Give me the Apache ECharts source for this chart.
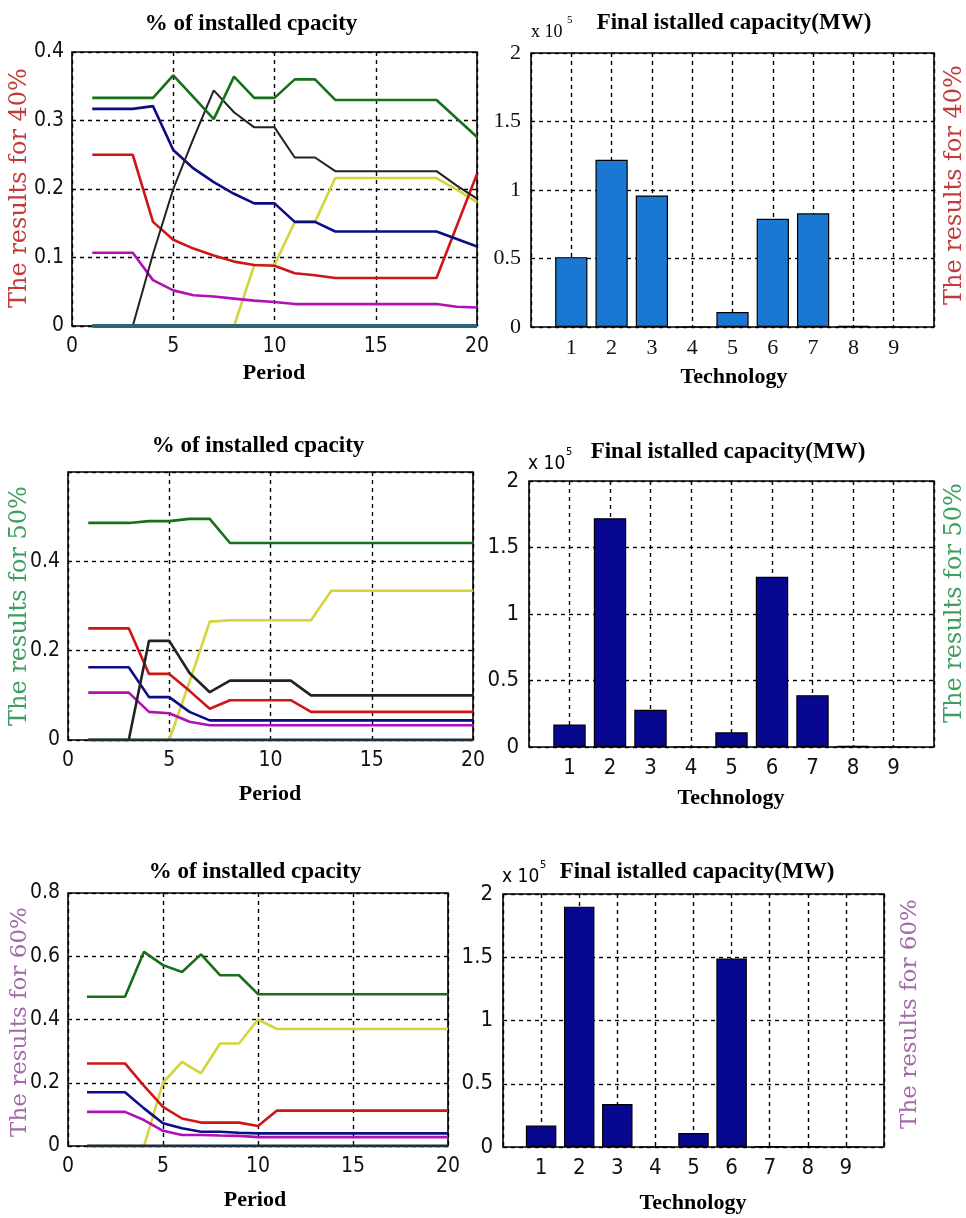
<!DOCTYPE html>
<html>
<head>
<meta charset="utf-8">
<script src="https://cdn.jsdelivr.net/npm/echarts@6/dist/echarts.min.js"></script>
<style>
html,body{margin:0;padding:0;background:#fff;}
#chart{width:966px;height:1218px;}
</style>
</head>
<body>
<div id="chart"></div>
<script>
// ---------- DATA ----------
const periods = [1,2,3,4,5,6,7,8,9,10,11,12,13,14,15,16,17,18,19,20];
const technologies = [1,2,3,4,5,6,7,8,9];

// 40% scenario - share of installed capacity
const green40   = [0.333,0.333,0.333,0.333,0.366,0.334,0.302,0.364,0.333,0.333,0.36,0.36,0.33,0.33,0.33,0.33,0.33,0.33,0.303,0.276];
const black40   = [0,0,0,0.105,0.2,0.274,0.344,0.312,0.29,0.29,0.246,0.246,0.226,0.226,0.226,0.226,0.226,0.226,0.205,0.186];
const blue40    = [0.317,0.317,0.317,0.321,0.257,0.23,0.21,0.193,0.179,0.179,0.152,0.152,0.138,0.138,0.138,0.138,0.138,0.138,0.127,0.116];
const red40     = [0.25,0.25,0.25,0.152,0.126,0.113,0.103,0.094,0.089,0.088,0.077,0.074,0.07,0.07,0.07,0.07,0.07,0.07,0.146,0.222];
const yellow40  = [0,0,0,0,0,0,0,0,0.089,0.089,0.152,0.152,0.216,0.216,0.216,0.216,0.216,0.216,0.199,0.181];
const magenta40 = [0.107,0.107,0.107,0.067,0.052,0.045,0.043,0.04,0.037,0.035,0.032,0.032,0.032,0.032,0.032,0.032,0.032,0.032,0.028,0.027];
const zero40    = [0,0,0,0,0,0,0,0,0,0,0,0,0,0,0,0,0,0,0,0];

// 50% scenario
const green50   = [0.486,0.486,0.486,0.49,0.49,0.495,0.495,0.441,0.441,0.441,0.441,0.441,0.441,0.441,0.441,0.441,0.441,0.441,0.441,0.441];
const black50   = [0,0,0,0.222,0.222,0.15,0.107,0.133,0.133,0.133,0.133,0.1,0.1,0.1,0.1,0.1,0.1,0.1,0.1,0.1];
const blue50    = [0.163,0.163,0.163,0.096,0.096,0.063,0.044,0.044,0.044,0.044,0.044,0.044,0.044,0.044,0.044,0.044,0.044,0.044,0.044,0.044];
const red50     = [0.25,0.25,0.25,0.148,0.148,0.11,0.07,0.089,0.089,0.089,0.089,0.063,0.063,0.063,0.063,0.063,0.063,0.063,0.063,0.063];
const yellow50  = [0,0,0,0,0,0.13,0.265,0.268,0.268,0.268,0.268,0.268,0.334,0.334,0.334,0.334,0.334,0.334,0.334,0.334];
const magenta50 = [0.106,0.106,0.106,0.063,0.06,0.041,0.033,0.033,0.033,0.033,0.033,0.033,0.033,0.033,0.033,0.033,0.033,0.033,0.033,0.033];
const zero50    = [0,0,0,0,0,0,0,0,0,0,0,0,0,0,0,0,0,0,0,0];

// 60% scenario
const green60   = [0.472,0.472,0.472,0.614,0.572,0.55,0.606,0.54,0.54,0.48,0.48,0.48,0.48,0.48,0.48,0.48,0.48,0.48,0.48,0.48];
const black60   = [0,0,0,0,0,0,0,0,0,0,0,0,0,0,0,0,0,0,0,0];
const blue60    = [0.17,0.17,0.17,0.119,0.072,0.056,0.045,0.045,0.042,0.04,0.04,0.04,0.04,0.04,0.04,0.04,0.04,0.04,0.04,0.04];
const red60     = [0.261,0.261,0.261,0.19,0.124,0.087,0.074,0.074,0.074,0.063,0.112,0.112,0.112,0.112,0.112,0.112,0.112,0.112,0.112,0.112];
const yellow60  = [0,0,0,0,0.2,0.266,0.23,0.324,0.324,0.40,0.37,0.37,0.37,0.37,0.37,0.37,0.37,0.37,0.37,0.37];
const magenta60 = [0.108,0.108,0.108,0.082,0.048,0.035,0.035,0.033,0.032,0.028,0.028,0.028,0.028,0.028,0.028,0.028,0.028,0.028,0.028,0.028];

// Final installed capacity (MW) per technology
const cap40 = [51000,122000,96000,0,11000,79000,83000,800,0];
const cap50 = [17000,172000,28000,0,11000,128000,39000,800,0];
const cap60 = [17000,190000,34000,0,11000,149000,600,600,0];

// tick values
const periodTicks = {min:0, max:20, interval:5};
const capTicks = {min:0, max:200000, interval:50000};

// ---------- STYLE ----------
const SERIF = '"Liberation Serif","Times New Roman",serif';
const NARROW = '"Liberation Sans Narrow","Arial Narrow","DejaVu Sans Condensed","Liberation Sans",sans-serif';
const C = {
  green:'#16701a', black:'#222222', blue:'#0c0c86', red:'#d01515',
  yellow:'#d4d43c', magenta:'#b010b4', teal:'#2a6675', dark:'#1d2f3a'
};

const grids = [
  {left:72,  top:52,  width:405, height:274},
  {left:531, top:53,  width:403, height:274},
  {left:68,  top:472, width:405, height:268},
  {left:529, top:481, width:405, height:266},
  {left:68,  top:893, width:380, height:253},
  {left:503, top:894, width:381, height:253}
].map(g => Object.assign({show:true, borderColor:'#000', borderWidth:1.6, backgroundColor:'#fff', containLabel:false}, g));

const dash = {show:true, lineStyle:{color:'#000', type:[4,4], width:1.4}};

function lineX(gi, font){
  return {type:'value', gridIndex:gi, min:periodTicks.min, max:periodTicks.max, interval:periodTicks.interval,
    axisLine:{show:false}, axisTick:{show:false}, splitLine:dash,
    axisLabel:{fontFamily:font, fontSize:21, color:'#111', margin:10}};
}
function lineY(gi, max, interval, hideTop){
  return {type:'value', gridIndex:gi, min:0, max:max, interval:interval,
    axisLine:{show:false}, axisTick:{show:false}, splitLine:dash,
    axisLabel:{fontFamily:NARROW, fontSize:21, color:'#111', margin:8,
      formatter: v => (hideTop && v >= max - 1e-9) ? '' : String(+v.toFixed(2))}};
}
function barX(gi, font){
  return {type:'value', gridIndex:gi, min:0, max:10, interval:1,
    axisLine:{show:false}, axisTick:{show:false}, splitLine:dash,
    axisLabel:{fontFamily:font, fontSize:22, color:'#111', margin:10,
      formatter: v => (v >= 1 && v <= 9) ? String(v) : ''}};
}
function barY(gi, font){
  return {type:'value', gridIndex:gi, min:capTicks.min, max:capTicks.max, interval:capTicks.interval,
    axisLine:{show:false}, axisTick:{show:false}, splitLine:dash,
    axisLabel:{fontFamily:font, fontSize:22, color:'#111', margin:10,
      formatter: v => String(v/100000)}};
}

function lineSeries(gi, arr, color, width, z){
  return {type:'line', xAxisIndex:gi, yAxisIndex:gi, data: periods.map((p,i)=>[p, arr[i]]),
    symbol:'none', lineStyle:{color:color, width:width||2.6}, itemStyle:{color:color}, z:z||2, animation:false};
}
function barSeries(gi, arr, color){
  return {type:'bar', xAxisIndex:gi, yAxisIndex:gi, data: technologies.map((t,i)=>[t, arr[i]]),
    barWidth: grids[gi].width/10*0.8,
    itemStyle:{color:color, borderColor:'#000', borderWidth:1.2}, animation:false};
}

function txt(x, y, text, o){
  o = o || {};
  return {type:'text', x:x, y:y, rotation:o.rot||0, z:100,
    style:{text:text, fill:o.color||'#000', fontFamily:o.font||SERIF, fontSize:o.size||20,
      fontWeight:o.weight||'normal', textAlign:o.align||'center', textVerticalAlign:'middle',
      align:o.align||'center', verticalAlign:'middle'}};
}

const RED_LBL = '#c23b3b', GREEN_LBL = '#3f9f60', PURPLE_LBL = '#a26aa8';
const rotFont = '"DejaVu Serif",serif';

const graphics = [
  // panel titles
  txt(251, 24, '% of installed cpacity', {weight:'bold', size:23}),
  txt(734, 23, 'Final istalled capacity(MW)', {weight:'bold', size:23}),
  txt(258, 446, '% of installed cpacity', {weight:'bold', size:23}),
  txt(728, 452, 'Final istalled capacity(MW)', {weight:'bold', size:23}),
  txt(255, 872, '% of installed cpacity', {weight:'bold', size:23}),
  txt(697, 872, 'Final istalled capacity(MW)', {weight:'bold', size:23}),
  // x axis names
  txt(274, 373, 'Period', {weight:'bold', size:22}),
  txt(734, 377, 'Technology', {weight:'bold', size:22}),
  txt(270, 794, 'Period', {weight:'bold', size:22}),
  txt(731, 798, 'Technology', {weight:'bold', size:22}),
  txt(255, 1200, 'Period', {weight:'bold', size:22}),
  txt(693, 1203, 'Technology', {weight:'bold', size:22}),
  // scale multipliers
  txt(531, 32, 'x 10', {align:'left', size:18}),
  txt(567, 20, '5', {align:'left', size:11}),
  txt(528, 464, 'x 10', {align:'left', size:19, font:NARROW}),
  txt(566, 452, '5', {align:'left', size:11, font:NARROW}),
  txt(502, 877, 'x 10', {align:'left', size:19, font:NARROW}),
  txt(540, 865, '5', {align:'left', size:11, font:NARROW}),
  // rotated scenario labels
  txt(20, 188, 'The results for 40%', {rot:Math.PI/2, color:RED_LBL, font:rotFont, size:24}),
  txt(955, 185, 'The results for 40%', {rot:Math.PI/2, color:RED_LBL, font:rotFont, size:24}),
  txt(20, 606, 'The results for 50%', {rot:Math.PI/2, color:GREEN_LBL, font:rotFont, size:24}),
  txt(955, 603, 'The results for 50%', {rot:Math.PI/2, color:GREEN_LBL, font:rotFont, size:24}),
  txt(20, 1022, 'The results for 60%', {rot:Math.PI/2, color:PURPLE_LBL, font:rotFont, size:23}),
  txt(910, 1014, 'The results for 60%', {rot:Math.PI/2, color:PURPLE_LBL, font:rotFont, size:23})
];

const option = {
  backgroundColor:'#fff',
  animation:false,
  grid: grids,
  xAxis: [lineX(0, NARROW), barX(1, SERIF), lineX(2, NARROW), barX(3, NARROW), lineX(4, NARROW), barX(5, NARROW)],
  yAxis: [lineY(0, 0.4, 0.1, false), barY(1, SERIF), lineY(2, 0.6, 0.2, true), barY(3, NARROW), lineY(4, 0.8, 0.2, false), barY(5, NARROW)],
  series: [
    lineSeries(0, yellow40, C.yellow), lineSeries(0, magenta40, C.magenta), lineSeries(0, red40, C.red),
    lineSeries(0, blue40, C.blue), lineSeries(0, black40, C.black, 2), lineSeries(0, green40, C.green),
    lineSeries(0, zero40, C.teal, 4, 3),
    barSeries(1, cap40, '#1b78d2'),
    lineSeries(2, yellow50, C.yellow), lineSeries(2, magenta50, C.magenta), lineSeries(2, red50, C.red),
    lineSeries(2, blue50, C.blue), lineSeries(2, black50, C.black), lineSeries(2, green50, C.green),
    lineSeries(2, zero50, C.dark, 3, 3),
    barSeries(3, cap50, '#07078f'),
    lineSeries(4, yellow60, C.yellow), lineSeries(4, magenta60, C.magenta), lineSeries(4, red60, C.red),
    lineSeries(4, blue60, C.blue), lineSeries(4, green60, C.green), lineSeries(4, black60, C.dark, 3, 3),
    barSeries(5, cap60, '#07078f')
  ],
  graphic: graphics
};

const chart = echarts.init(document.getElementById('chart'), null, {renderer:'canvas'});
chart.setOption(option);
</script>
</body>
</html>
